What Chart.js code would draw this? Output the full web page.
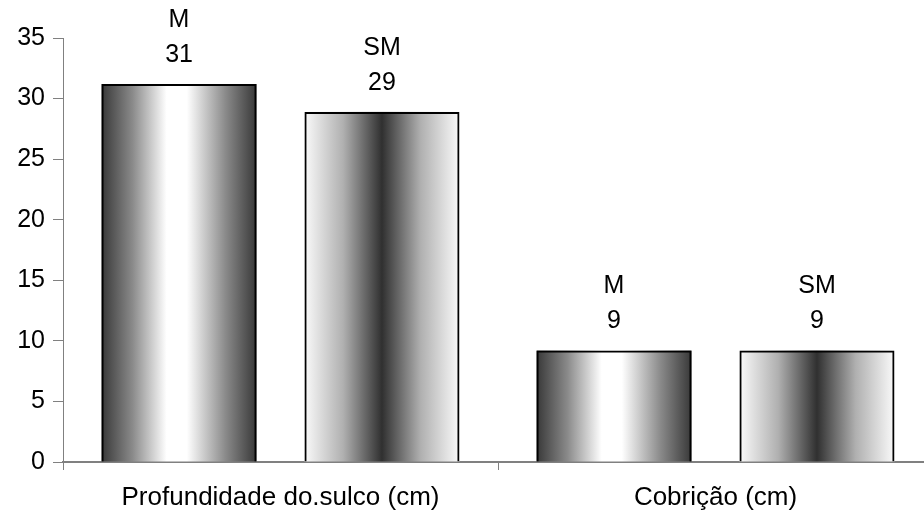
<!DOCTYPE html>
<html>
<head>
<meta charset="utf-8">
<script src="https://cdn.jsdelivr.net/npm/chart.js@4/dist/chart.umd.min.js"></script>
<style>
  html, body { margin: 0; padding: 0; background: #fff; overflow: hidden; }
  #caixa { width: 940px; height: 514px; }
</style>
</head>
<body>
<div id="caixa"><canvas id="grafico" width="940" height="514"></canvas></div>
<script>
//Dados
const categorias = ['Profundidade do.sulco (cm)', 'Cobrição (cm)'];
const valoresM = [31.2, 9.2];
const valoresSM = [28.9, 9.2];
const eixoMin = 0;
const eixoMax = 35;
const eixoPasso = 5;

//Degradês das barras (borda -> centro -> borda)
const degradeM = [[0, '#383838'], [0.2, '#8a8a8a'], [0.42, '#ffffff'], [0.55, '#ffffff'], [0.8, '#8a8a8a'], [1, '#383838']];
const degradeSM = [[0, '#fafafa'], [0.25, '#b0b0b0'], [0.5, '#303030'], [0.75, '#b0b0b0'], [1, '#fafafa']];

Chart.defaults.font.family = '"Liberation Sans", Arial, sans-serif';
Chart.defaults.font.size = 25;
Chart.defaults.color = '#000';

//Pinta o degradê por baixo da borda de cada barra
const pluginDegrade = {
    id: 'degrade',
    beforeDatasetsDraw(chart) {
        const ctx = chart.ctx;
        chart.data.datasets.forEach((ds, i) => {
            const meta = chart.getDatasetMeta(i);
            meta.data.forEach(barra => {
                let esq = barra.x - barra.width / 2;
                let g = ctx.createLinearGradient(esq, 0, esq + barra.width, 0);
                ds.degrade.forEach(p => g.addColorStop(p[0], p[1]));
                ctx.save();
                ctx.fillStyle = g;
                ctx.fillRect(esq, barra.y, barra.width, barra.base - barra.y);
                ctx.restore();
            });
        });
    },
    //Rótulos acima das barras: nome da série e valor arredondado
    afterDatasetsDraw(chart) {
        const ctx = chart.ctx;
        ctx.save();
        ctx.font = '25px "Liberation Sans", Arial, sans-serif';
        ctx.fillStyle = '#000';
        ctx.textAlign = 'center';
        ctx.textBaseline = 'middle';
        chart.data.datasets.forEach((ds, i) => {
            const meta = chart.getDatasetMeta(i);
            meta.data.forEach((barra, j) => {
                ctx.fillText(ds.label, barra.x, barra.y - 64);
                ctx.fillText(Math.round(ds.data[j]), barra.x, barra.y - 29);
            });
        });
        ctx.restore();
    }
};

const grafico = new Chart(document.getElementById('grafico'), {
    type: 'bar',
    data: {
        labels: categorias,
        datasets: [
            {
                label: 'M',
                data: valoresM,
                degrade: degradeM,
                backgroundColor: 'rgba(0,0,0,0)',
                borderColor: '#000',
                borderWidth: 2,
                categoryPercentage: 0.933,
                barPercentage: 0.764
            },
            {
                label: 'SM',
                data: valoresSM,
                degrade: degradeSM,
                backgroundColor: 'rgba(0,0,0,0)',
                borderColor: '#000',
                borderWidth: 2,
                categoryPercentage: 0.933,
                barPercentage: 0.764
            }
        ]
    },
    options: {
        responsive: false,
        animation: false,
        layout: { padding: { top: 38, right: 7, left: 0, bottom: 0 } },
        plugins: {
            legend: { display: false },
            tooltip: { enabled: false }
        },
        scales: {
            x: {
                afterFit: (escala) => { escala.height = 52; },
                border: { color: '#808080', width: 2 },
                grid: { drawOnChartArea: false, tickLength: 8, color: '#808080', offset: true },
                ticks: { padding: 12, maxRotation: 0, font: { size: 26 } }
            },
            y: {
                min: eixoMin,
                max: eixoMax,
                afterFit: (escala) => { escala.width = 63; },
                border: { color: '#808080', width: 1 },
                grid: { drawOnChartArea: false, tickLength: 10, color: '#808080' },
                ticks: { stepSize: eixoPasso, padding: 8 }
            }
        }
    },
    plugins: [pluginDegrade]
});
</script>
</body>
</html>
